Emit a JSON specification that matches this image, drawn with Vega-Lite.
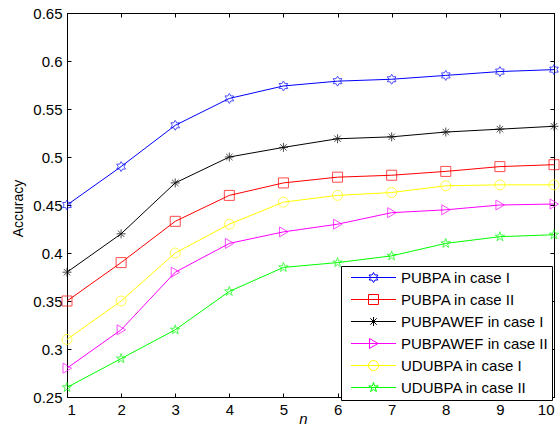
{
  "$schema": "https://vega.github.io/schema/vega-lite/v6.json",
  "width": 487,
  "height": 384,
  "autosize": {"type": "none"},
  "padding": {"left": 67, "top": 13, "right": 6, "bottom": 39},
  "background": "white",
  "config": {
    "view": {"stroke": "black", "strokeWidth": 1},
    "font": "Liberation Sans",
    "axis": {
      "grid": false,
      "domainColor": "black",
      "domainWidth": 1,
      "tickColor": "black",
      "tickWidth": 1,
      "tickSize": -4,
      "labelPadding": 9,
      "labelColor": "black",
      "labelFont": "Liberation Sans",
      "labelFontSize": 15,
      "titleColor": "black",
      "titleFont": "Liberation Sans",
      "titleFontWeight": "normal"
    }
  },
  "data": {
    "values": [
      {"n": 1, "acc": 0.45, "series": "PUBPA in case I"},
      {"n": 2, "acc": 0.49, "series": "PUBPA in case I"},
      {"n": 3, "acc": 0.533, "series": "PUBPA in case I"},
      {"n": 4, "acc": 0.561, "series": "PUBPA in case I"},
      {"n": 5, "acc": 0.574, "series": "PUBPA in case I"},
      {"n": 6, "acc": 0.579, "series": "PUBPA in case I"},
      {"n": 7, "acc": 0.581, "series": "PUBPA in case I"},
      {"n": 8, "acc": 0.585, "series": "PUBPA in case I"},
      {"n": 9, "acc": 0.589, "series": "PUBPA in case I"},
      {"n": 10, "acc": 0.591, "series": "PUBPA in case I"},
      {"n": 1, "acc": 0.35, "series": "PUBPA in case II"},
      {"n": 2, "acc": 0.39, "series": "PUBPA in case II"},
      {"n": 3, "acc": 0.433, "series": "PUBPA in case II"},
      {"n": 4, "acc": 0.46, "series": "PUBPA in case II"},
      {"n": 5, "acc": 0.473, "series": "PUBPA in case II"},
      {"n": 6, "acc": 0.479, "series": "PUBPA in case II"},
      {"n": 7, "acc": 0.481, "series": "PUBPA in case II"},
      {"n": 8, "acc": 0.485, "series": "PUBPA in case II"},
      {"n": 9, "acc": 0.49, "series": "PUBPA in case II"},
      {"n": 10, "acc": 0.492, "series": "PUBPA in case II"},
      {"n": 1, "acc": 0.38, "series": "PUBPAWEF in case I"},
      {"n": 2, "acc": 0.42, "series": "PUBPAWEF in case I"},
      {"n": 3, "acc": 0.473, "series": "PUBPAWEF in case I"},
      {"n": 4, "acc": 0.5, "series": "PUBPAWEF in case I"},
      {"n": 5, "acc": 0.51, "series": "PUBPAWEF in case I"},
      {"n": 6, "acc": 0.519, "series": "PUBPAWEF in case I"},
      {"n": 7, "acc": 0.521, "series": "PUBPAWEF in case I"},
      {"n": 8, "acc": 0.526, "series": "PUBPAWEF in case I"},
      {"n": 9, "acc": 0.529, "series": "PUBPAWEF in case I"},
      {"n": 10, "acc": 0.532, "series": "PUBPAWEF in case I"},
      {"n": 1, "acc": 0.28, "series": "PUBPAWEF in case II"},
      {"n": 2, "acc": 0.32, "series": "PUBPAWEF in case II"},
      {"n": 3, "acc": 0.38, "series": "PUBPAWEF in case II"},
      {"n": 4, "acc": 0.41, "series": "PUBPAWEF in case II"},
      {"n": 5, "acc": 0.422, "series": "PUBPAWEF in case II"},
      {"n": 6, "acc": 0.43, "series": "PUBPAWEF in case II"},
      {"n": 7, "acc": 0.442, "series": "PUBPAWEF in case II"},
      {"n": 8, "acc": 0.445, "series": "PUBPAWEF in case II"},
      {"n": 9, "acc": 0.45, "series": "PUBPAWEF in case II"},
      {"n": 10, "acc": 0.451, "series": "PUBPAWEF in case II"},
      {"n": 1, "acc": 0.31, "series": "UDUBPA in case I"},
      {"n": 2, "acc": 0.35, "series": "UDUBPA in case I"},
      {"n": 3, "acc": 0.4, "series": "UDUBPA in case I"},
      {"n": 4, "acc": 0.43, "series": "UDUBPA in case I"},
      {"n": 5, "acc": 0.453, "series": "UDUBPA in case I"},
      {"n": 6, "acc": 0.46, "series": "UDUBPA in case I"},
      {"n": 7, "acc": 0.463, "series": "UDUBPA in case I"},
      {"n": 8, "acc": 0.47, "series": "UDUBPA in case I"},
      {"n": 9, "acc": 0.471, "series": "UDUBPA in case I"},
      {"n": 10, "acc": 0.471, "series": "UDUBPA in case I"},
      {"n": 1, "acc": 0.26, "series": "UDUBPA in case II"},
      {"n": 2, "acc": 0.29, "series": "UDUBPA in case II"},
      {"n": 3, "acc": 0.32, "series": "UDUBPA in case II"},
      {"n": 4, "acc": 0.36, "series": "UDUBPA in case II"},
      {"n": 5, "acc": 0.385, "series": "UDUBPA in case II"},
      {"n": 6, "acc": 0.39, "series": "UDUBPA in case II"},
      {"n": 7, "acc": 0.397, "series": "UDUBPA in case II"},
      {"n": 8, "acc": 0.41, "series": "UDUBPA in case II"},
      {"n": 9, "acc": 0.417, "series": "UDUBPA in case II"},
      {"n": 10, "acc": 0.419, "series": "UDUBPA in case II"}
    ]
  },
  "layer": [
    {
      "mark": {"type": "line", "strokeWidth": 1},
      "encoding": {
        "x": {
          "field": "n", "type": "quantitative",
          "scale": {"domain": [1, 10], "nice": false, "zero": false},
          "axis": {"orient": "bottom", "values": [1, 2, 3, 4, 5, 6, 7, 8, 9, 10], "title": "n", "titleFontStyle": "italic", "titleFontSize": 15, "titleX": 236, "titleY": 26, "titleBaseline": "alphabetic"}
        },
        "y": {
          "field": "acc", "type": "quantitative",
          "scale": {"domain": [0.25, 0.65], "nice": false, "zero": false},
          "axis": {"orient": "left", "values": [0.25, 0.3, 0.35, 0.4, 0.45, 0.5, 0.55, 0.6, 0.65], "format": ".2~f", "title": "Accuracy", "titleFontSize": 14, "titleX": -45, "titleY": 195, "titleAngle": 270, "titleBaseline": "alphabetic", "titleAlign": "center"}
        },
        "color": {
          "field": "series", "type": "nominal",
          "scale": {
            "domain": ["PUBPA in case I", "PUBPA in case II", "PUBPAWEF in case I", "PUBPAWEF in case II", "UDUBPA in case I", "UDUBPA in case II"],
            "range": ["#0000ff", "#ff0000", "#000000", "#ff00ff", "#ffff00", "#00ff00"]
          },
          "legend": {
            "title": null, "orient": "none", "legendX": 274, "legendY": 253,
            "padding": 4, "strokeColor": "black", "fillColor": "white", "cornerRadius": 0,
            "rowPadding": 6, "labelFont": "Liberation Sans", "labelFontSize": 15, "labelColor": "black", "labelLimit": 0,
            "symbolSize": 100, "symbolStrokeWidth": 1, "symbolOffset": 21, "labelOffset": 20,
            "symbolFillColor": "transparent",
            "symbolType": {"expr": "datum.value === 'PUBPA in case I' ? 'M-4.5,0H4.5M0,-1L0.289,-0.5L0.866,-0.5L0.577,0L0.866,0.5L0.289,0.5L0,1L-0.289,0.5L-0.866,0.5L-0.577,0L-0.866,-0.5L-0.289,-0.5Z' : datum.value === 'PUBPA in case II' ? 'M-4.5,0H4.5M-1,-1H1V1H-1Z' : datum.value === 'PUBPAWEF in case I' ? 'M-4.5,0H4.5M0,-0.9V0.9M-0.64,-0.64L0.64,0.64M-0.64,0.64L0.64,-0.64' : datum.value === 'PUBPAWEF in case II' ? 'M-4.5,0H4.5M-0.8,-1L0.9,0L-0.8,1Z' : datum.value === 'UDUBPA in case I' ? 'M-4.5,0H4.5M1,0A1,1,0,1,1,-1,0A1,1,0,1,1,1,0Z' : 'M-4.5,0H4.5M0,-1L0.225,-0.309L0.951,-0.309L0.363,0.118L0.588,0.809L0,0.382L-0.588,0.809L-0.363,0.118L-0.951,-0.309L-0.225,-0.309Z'"}
          }
        }
      }
    },
    {
      "transform": [{"filter": {"field": "series", "equal": "PUBPA in case I"}}],
      "mark": {"type": "point", "filled": false, "size": 100, "strokeWidth": 1, "stroke": "#0000ff", "shape": "M0,-1L0.289,-0.5L0.866,-0.5L0.577,0L0.866,0.5L0.289,0.5L0,1L-0.289,0.5L-0.866,0.5L-0.577,0L-0.866,-0.5L-0.289,-0.5Z"},
      "encoding": {
        "x": {"field": "n", "type": "quantitative", "scale": {"domain": [1, 10], "nice": false, "zero": false}, "axis": {"orient": "top", "labels": false, "title": null, "values": [1, 2, 3, 4, 5, 6, 7, 8, 9, 10]}},
        "y": {"field": "acc", "type": "quantitative", "scale": {"domain": [0.25, 0.65], "nice": false, "zero": false}, "axis": {"orient": "right", "labels": false, "title": null, "values": [0.25, 0.3, 0.35, 0.4, 0.45, 0.5, 0.55, 0.6, 0.65]}}
      }
    },
    {
      "transform": [{"filter": {"field": "series", "equal": "PUBPA in case II"}}],
      "mark": {"type": "point", "filled": false, "size": 100, "strokeWidth": 1, "stroke": "#ff0000", "shape": "M-1,-1H1V1H-1Z"},
      "encoding": {
        "x": {"field": "n", "type": "quantitative", "axis": null},
        "y": {"field": "acc", "type": "quantitative", "axis": null}
      }
    },
    {
      "transform": [{"filter": {"field": "series", "equal": "PUBPAWEF in case I"}}],
      "mark": {"type": "point", "filled": false, "size": 100, "strokeWidth": 1, "stroke": "#000000", "shape": "M0,-0.9V0.9M-0.9,0H0.9M-0.64,-0.64L0.64,0.64M-0.64,0.64L0.64,-0.64"},
      "encoding": {
        "x": {"field": "n", "type": "quantitative", "axis": null},
        "y": {"field": "acc", "type": "quantitative", "axis": null}
      }
    },
    {
      "transform": [{"filter": {"field": "series", "equal": "PUBPAWEF in case II"}}],
      "mark": {"type": "point", "filled": false, "size": 100, "strokeWidth": 1, "stroke": "#ff00ff", "shape": "M-0.8,-1L0.9,0L-0.8,1Z"},
      "encoding": {
        "x": {"field": "n", "type": "quantitative", "axis": null},
        "y": {"field": "acc", "type": "quantitative", "axis": null}
      }
    },
    {
      "transform": [{"filter": {"field": "series", "equal": "UDUBPA in case I"}}],
      "mark": {"type": "point", "filled": false, "size": 100, "strokeWidth": 1, "stroke": "#ffff00", "shape": "circle"},
      "encoding": {
        "x": {"field": "n", "type": "quantitative", "axis": null},
        "y": {"field": "acc", "type": "quantitative", "axis": null}
      }
    },
    {
      "transform": [{"filter": {"field": "series", "equal": "UDUBPA in case II"}}],
      "mark": {"type": "point", "filled": false, "size": 100, "strokeWidth": 1, "stroke": "#00ff00", "shape": "M0,-1L0.225,-0.309L0.951,-0.309L0.363,0.118L0.588,0.809L0,0.382L-0.588,0.809L-0.363,0.118L-0.951,-0.309L-0.225,-0.309Z"},
      "encoding": {
        "x": {"field": "n", "type": "quantitative", "axis": null},
        "y": {"field": "acc", "type": "quantitative", "axis": null}
      }
    }
  ],
  "resolve": {"axis": {"x": "independent", "y": "independent"}}
}
